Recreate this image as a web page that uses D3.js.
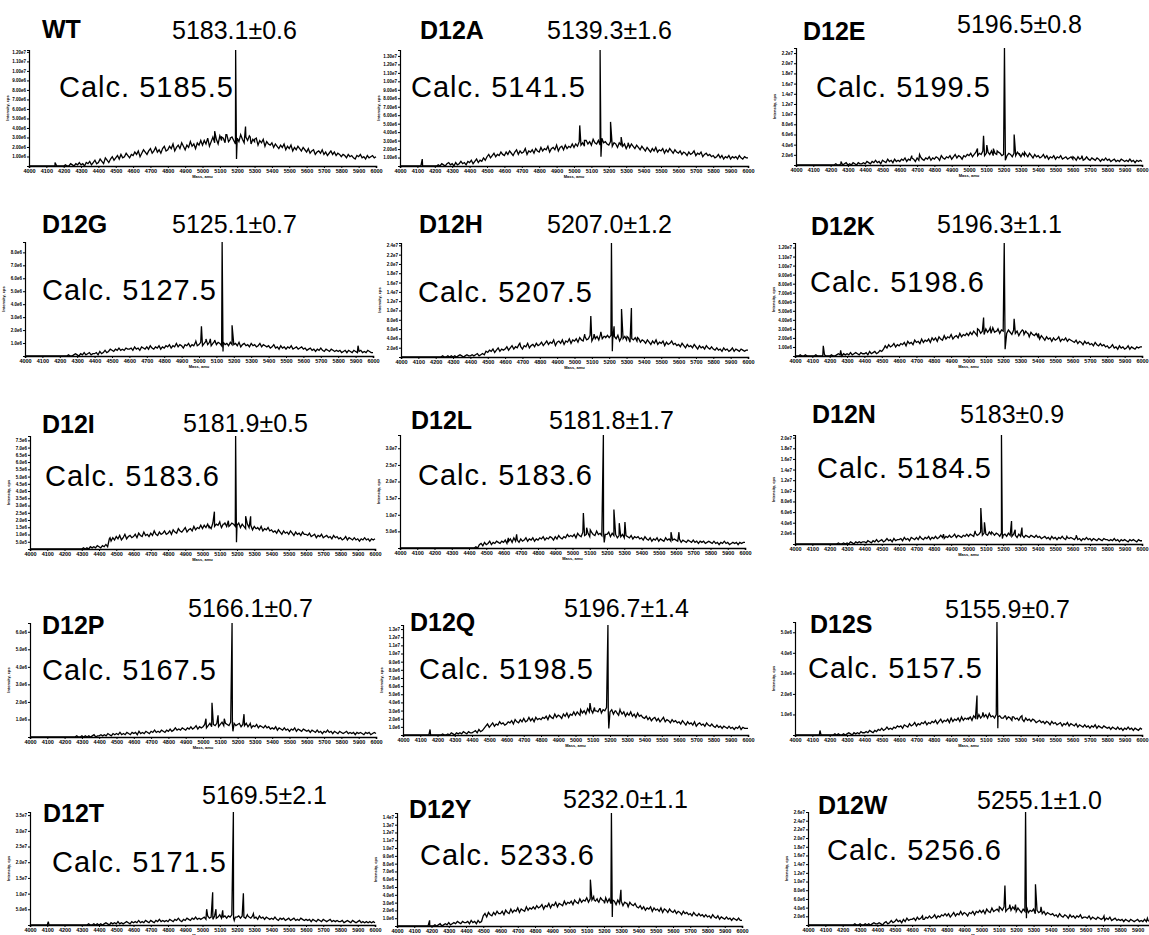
<!DOCTYPE html>
<html>
<head>
<meta charset="utf-8">
<script src="https://cdn.jsdelivr.net/npm/d3@7"></script>
<style>
  body { margin: 0; background: #fff; }
  svg { display: block; font-family: "Liberation Sans", Arial, sans-serif; }
</style>
</head>
<body>
<div id="chart"></div>
<script>
// mutant names and masses shown on each panel
const names = ["WT", "D12A", "D12E", "D12G", "D12H", "D12K", "D12I", "D12L", "D12N",
  "D12P", "D12Q", "D12S", "D12T", "D12Y", "D12W"];
const measured = ["5183.1±0.6", "5139.3±1.6", "5196.5±0.8", "5125.1±0.7", "5207.0±1.2",
  "5196.3±1.1", "5181.9±0.5", "5181.8±1.7", "5183±0.9", "5166.1±0.7", "5196.7±1.4",
  "5155.9±0.7", "5169.5±2.1", "5232.0±1.1", "5255.1±1.0"];
const calculated = ["Calc. 5185.5", "Calc. 5141.5", "Calc. 5199.5", "Calc. 5127.5",
  "Calc. 5207.5", "Calc. 5198.6", "Calc. 5183.6", "Calc. 5183.6", "Calc. 5184.5",
  "Calc. 5167.5", "Calc. 5198.5", "Calc. 5157.5", "Calc. 5171.5", "Calc. 5233.6",
  "Calc. 5256.6"];

// y axis top (cps) and tick step for every panel
const yMax = [1.22e7, 1.37e7, 2.3e7, 8.8e6, 2.45e7, 1.25e7, 7.8e6, 3.4e7, 2.05e7,
  6.5e6, 1.35e7, 5.5e6, 3.6e7, 1.45e7, 2.6e7];
const yStep = [1e6, 1e6, 2e6, 1e6, 2e6, 1e6, 5e5, 5e6, 2e6, 1e6, 1e6, 1e6, 5e6, 1e6, 2e6];
const yDigits = [2, 2, 1, 1, 1, 2, 1, 1, 1, 1, 1, 1, 1, 1, 1];

const xTickValues = [4000, 4100, 4200, 4300, 4400, 4500, 4600, 4700, 4800, 4900, 5000,
  5100, 5200, 5300, 5400, 5500, 5600, 5700, 5800, 5900, 6000];

// spectra: % of y axis top, evenly spaced from 4000 to 6000 amu (10 amu apart)
const massStart = 4000, massEnd = 6000;
const wtSpec = [
  0,0,0,0,0,0,0,0,0,0,0,0,0,0,0,0,0,0,0,0,
  0,1,0,0,2,1,0,2,1,3,1,2,0,3,2,4,1,3,5,2,
  3,6,4,2,7,5,3,6,8,5,7,9,6,10,7,8,11,9,7,10,
  9,12,10,13,8,11,14,12,10,13,15,11,13,16,12,14,11,15,17,13,
  14,17,15,19,13,16,18,15,20,17,14,18,16,21,17,19,15,20,18,22,
  18,22,19,24,17,21,25,20,23,19,26,22,24,20,27,21,23,25,22,19,
  24,21,27,23,20,25,22,26,19,23,21,24,18,22,20,23,17,21,19,18,
  20,16,19,17,15,18,16,19,14,17,15,18,13,16,14,17,15,13,16,14,
  12,15,11,13,14,10,12,13,11,14,10,12,9,11,13,10,12,9,11,10,
  8,10,9,7,10,8,9,7,6,9,8,10,7,8,6,9,7,8,9,7,
  8];
const d12aSpec = [
  0,0,0,0,0,0,0,0,0,0,0,0,0,0,0,0,0,0,0,0,
  0,0,1,0,2,1,0,2,3,1,2,0,3,1,2,4,2,3,1,4,
  3,5,2,4,6,3,5,4,7,5,8,10,7,9,11,8,10,9,12,10,
  9,12,10,13,11,9,12,14,10,13,11,12,15,10,13,12,14,11,15,13,
  12,16,13,15,14,17,12,15,16,14,18,13,16,17,14,18,15,17,16,19,
  16,19,17,21,18,20,17,22,19,21,18,23,20,19,22,18,24,20,21,19,
  18,21,17,20,19,16,20,18,17,19,15,18,16,19,17,15,18,16,14,17,
  15,13,16,14,12,15,13,16,12,14,13,15,11,14,12,15,13,11,14,12,
  11,13,10,12,11,9,12,10,11,13,9,11,10,12,8,10,11,9,10,8,
  9,7,8,10,7,9,6,8,7,9,6,8,7,8,6,9,7,6,8,7,
  7];
const d12eSpec = [
  0,0,0,0,0,0,0,0,0,0,0,0,0,0,0,0,0,0,0,0,
  0,0,0,1,0,0,1,0,1,2,0,1,0,2,1,0,2,1,1,2,
  1,3,2,1,3,2,4,2,3,1,4,3,2,5,3,4,2,5,3,4,
  3,5,4,6,3,5,4,6,5,3,6,4,7,5,4,6,5,7,4,6,
  5,7,6,4,8,6,5,7,6,8,5,7,9,6,8,7,5,8,7,9,
  8,10,7,9,11,8,10,9,12,8,10,11,9,12,8,10,9,11,10,8,
  9,11,8,10,9,7,10,8,11,9,7,10,8,9,7,10,8,6,9,7,
  8,6,7,9,6,8,5,7,6,8,5,7,6,8,5,6,7,5,6,7,
  5,6,4,7,5,6,4,5,7,5,4,6,5,4,6,5,3,5,4,6,
  4,5,3,4,5,3,4,3,5,4,3,4,3,5,3,4,2,4,3,4,
  3];
const d12gSpec = [
  0,0,0,0,0,0,0,0,0,0,0,0,0,0,0,0,0,0,0,0,
  0,0,0,0,0,1,0,0,1,2,1,0,2,1,3,1,2,3,1,2,
  2,3,1,4,2,3,5,3,4,6,5,4,6,5,7,5,6,5,7,6,
  6,7,5,8,6,7,5,8,7,6,8,6,9,7,6,8,7,9,6,8,
  7,9,8,10,7,9,8,11,8,10,9,7,10,9,11,8,10,9,12,9,
  10,12,9,11,13,10,12,9,11,13,10,12,11,9,12,10,11,9,12,10,
  10,11,9,12,8,10,11,9,10,8,11,9,10,8,9,11,8,10,9,8,
  9,7,8,10,7,8,6,9,7,8,6,8,7,9,6,7,8,6,7,8,
  6,7,5,6,7,5,6,4,6,5,7,5,4,6,5,4,6,5,4,5,
  4,5,3,4,5,3,5,4,3,5,4,3,4,5,3,4,3,5,4,3,
  3];
const d12hSpec = [
  0,0,0,0,0,0,0,0,0,0,0,0,0,0,0,0,0,0,0,0,
  0,0,0,0,1,0,0,1,0,1,0,1,0,1,2,1,0,1,2,1,
  1,2,1,2,3,1,2,3,2,5,4,6,5,7,4,6,8,5,7,6,
  7,9,6,8,10,7,9,8,11,9,7,10,9,12,8,10,11,9,12,10,
  11,13,10,12,14,11,13,12,15,10,13,14,12,15,11,14,13,16,12,15,
  14,16,13,17,15,14,18,15,16,19,14,17,16,18,15,20,16,18,17,19,
  17,19,15,18,16,19,14,17,16,18,15,17,13,16,15,17,14,16,13,15,
  14,12,15,13,11,14,12,15,11,13,12,14,10,13,11,12,14,11,12,10,
  11,9,12,10,8,11,9,10,8,11,9,7,10,8,9,7,10,8,7,9,
  7,6,8,6,7,5,8,6,7,5,6,8,5,7,6,5,7,6,5,6,
  6];
const d12kSpec = [
  0,0,0,1,0,0,1,0,0,0,0,0,1,0,0,0,0,1,0,0,
  0,1,0,0,1,2,1,0,2,1,2,1,3,1,2,3,2,1,3,2,
  2,3,1,4,2,3,4,2,3,5,4,6,9,7,10,8,9,11,8,10,
  9,11,10,12,9,13,11,12,10,14,12,13,11,15,12,14,13,15,12,16,
  14,16,13,17,15,14,18,15,17,16,19,15,17,18,16,20,17,19,18,20,
  18,21,19,22,20,18,23,20,22,19,24,21,23,20,25,21,22,24,20,23,
  22,24,20,23,21,19,23,20,22,18,21,23,19,22,20,17,21,19,18,20,
  17,15,18,16,14,17,15,16,13,16,14,15,17,13,15,14,16,13,15,14,
  13,12,14,11,13,12,10,13,11,12,10,11,9,12,10,9,11,9,10,8,
  9,7,8,10,7,8,6,9,7,8,6,7,9,6,8,7,6,8,7,8,
  8];
const d12iSpec = [
  0,0,0,0,0,0,0,0,0,0,0,0,0,0,0,0,0,0,0,0,
  0,0,0,0,0,0,0,0,0,0,0,1,0,1,0,2,1,2,1,3,
  2,1,3,2,4,2,9,7,10,8,11,9,12,8,10,13,9,11,12,10,
  11,13,10,14,12,11,15,12,13,11,14,12,16,13,12,15,13,14,16,13,
  14,16,13,17,15,14,18,16,15,17,19,15,17,18,16,20,17,19,18,21,
  18,21,19,22,20,18,23,20,22,21,24,19,22,23,20,25,21,23,22,20,
  21,23,19,22,20,18,22,19,21,17,20,18,19,17,20,16,18,17,19,16,
  17,15,16,14,17,15,13,16,14,15,13,16,14,12,15,13,14,12,15,13,
  13,12,14,11,12,13,10,12,11,13,10,11,12,10,11,9,12,10,11,9,
  10,8,9,11,8,10,9,8,10,8,9,7,9,8,10,8,9,7,9,8,
  9];
const d12lSpec = [
  0,0,0,0,0,0,0,0,0,0,0,0,0,0,0,0,0,0,0,0,
  0,0,0,0,0,0,0,0,0,0,0,0,0,0,0,0,0,0,0,0,
  0,0,0,0,1,0,3,4,2,5,3,4,6,3,5,4,6,5,4,6,
  5,7,4,6,8,5,9,6,7,5,8,6,7,9,6,8,7,9,6,8,
  7,9,8,10,7,9,8,10,9,7,10,8,11,9,8,10,9,12,10,11,
  10,12,9,13,11,10,14,11,12,13,10,14,12,11,15,12,13,11,14,12,
  12,14,10,13,11,12,9,11,10,12,9,11,10,9,11,8,10,9,10,8,
  9,7,10,8,7,9,6,8,7,9,6,8,7,6,9,7,8,6,7,8,
  7,6,8,5,7,6,5,7,6,5,7,5,6,4,6,5,6,4,5,6,
  5,4,6,4,5,3,5,4,6,4,5,3,4,5,4,5,3,5,4,5,
  5];
const d12nSpec = [
  0,0,0,0,0,0,0,0,0,0,0,0,0,0,0,0,0,0,0,0,
  0,0,0,0,0,1,0,0,1,0,1,0,2,1,0,2,1,2,1,2,
  2,1,3,2,1,3,2,4,2,3,4,2,3,5,3,4,2,5,3,4,
  4,5,3,6,4,5,3,6,5,4,6,4,7,5,4,6,5,7,4,6,
  5,7,5,6,8,6,5,7,6,8,6,7,9,6,8,7,6,8,7,9,
  7,9,8,7,10,8,9,11,8,10,9,8,11,9,10,8,10,9,7,10,
  8,9,7,10,8,7,9,8,6,9,7,8,6,8,7,6,8,7,6,8,
  6,7,5,6,7,5,6,4,7,5,6,4,6,5,7,5,4,6,5,6,
  5,4,6,4,5,3,5,4,6,4,5,3,5,4,3,5,4,3,5,4,
  4,3,4,3,5,3,4,2,4,3,4,3,2,4,3,4,3,2,4,3,
  3];
const d12pSpec = [
  0,0,0,0,0,0,0,0,0,0,0,0,0,0,0,0,0,0,0,0,
  0,0,0,0,0,0,0,1,0,0,1,0,1,0,1,0,1,2,0,1,
  1,2,1,2,1,3,2,1,3,2,3,2,4,2,3,2,4,3,2,4,
  3,4,2,5,3,4,3,5,4,3,5,4,6,4,5,4,6,5,4,6,
  5,7,5,6,8,6,7,6,8,7,6,8,7,9,7,8,10,7,9,8,
  9,11,8,10,12,9,11,10,12,9,11,13,10,12,11,10,13,11,12,10,
  11,12,9,11,10,12,9,11,8,10,9,11,8,10,9,8,10,8,9,7,
  8,7,9,6,8,7,6,8,6,7,5,7,6,8,5,7,6,5,7,6,
  5,6,4,6,5,4,6,4,5,3,5,4,6,4,5,3,5,4,3,5,
  4,3,4,5,3,4,3,4,2,4,3,4,3,2,4,3,4,2,3,4,
  3];
const d12qSpec = [
  0,0,0,0,0,0,0,0,0,0,0,0,0,0,0,0,0,0,0,0,
  0,0,0,1,0,0,1,0,2,1,0,2,1,2,1,3,2,1,3,2,
  2,3,4,2,5,3,4,6,8,10,7,9,11,8,10,9,12,10,11,9,
  10,12,11,13,10,14,12,11,14,12,15,12,13,16,13,15,12,16,14,15,
  14,16,15,17,14,18,16,15,19,16,18,17,15,19,17,20,16,19,18,21,
  18,21,19,23,20,22,19,24,21,23,20,25,22,21,24,20,23,22,25,21,
  21,23,19,22,20,18,22,19,21,17,20,18,21,17,19,16,20,17,18,16,
  15,17,14,16,13,15,16,13,15,12,14,16,12,14,13,11,14,12,13,11,
  12,10,13,11,9,12,10,11,9,12,8,10,11,9,10,8,11,9,8,10,
  8,7,9,7,8,6,8,7,6,8,6,7,5,7,6,8,5,7,6,6,
  6];
const d12sSpec = [
  0,0,0,0,0,0,0,0,0,0,0,0,0,0,0,0,0,0,0,0,
  0,0,0,1,0,1,0,0,1,0,1,2,1,0,2,1,2,1,3,2,
  2,3,2,4,3,2,4,3,5,4,6,4,5,7,5,6,5,7,6,8,
  7,8,6,9,8,7,10,8,9,11,8,10,9,11,10,12,9,11,10,12,
  11,13,10,12,14,11,13,12,14,11,15,12,14,13,15,12,16,13,15,14,
  14,16,13,17,15,14,18,15,17,16,18,15,19,16,17,15,18,16,17,15,
  15,17,14,16,15,13,16,14,15,13,16,14,12,15,13,14,12,14,13,11,
  12,13,11,12,10,12,11,9,12,10,11,9,10,11,8,10,9,11,8,10,
  9,8,10,7,9,8,7,9,7,8,6,8,7,9,6,8,7,6,8,7,
  6,7,5,7,6,5,7,5,6,4,6,5,7,5,6,4,6,5,4,6,
  5];
const d12tSpec = [
  0,0,0,0,0,0,0,0,0,0,0,0,0,0,0,0,0,0,0,0,
  0,0,0,0,0,0,0,0,0,0,0,0,0,0,1,0,0,1,0,1,
  0,1,0,1,2,1,0,2,1,2,1,3,1,2,1,2,3,2,1,3,
  2,3,2,4,2,3,2,4,3,2,4,3,2,4,3,5,3,4,3,4,
  3,5,4,3,5,4,6,4,3,5,4,6,5,4,6,5,7,5,6,5,
  6,7,5,8,6,7,5,8,6,7,9,6,7,8,6,8,7,9,6,7,
  7,8,6,8,7,6,9,7,6,8,6,7,5,8,6,7,5,7,6,5,
  6,5,7,5,4,6,5,6,4,5,6,4,5,6,4,5,4,6,5,4,
  5,4,5,3,5,4,3,5,4,3,5,4,3,4,5,3,4,3,4,3,
  3,4,2,3,4,3,2,4,3,2,3,4,2,3,2,3,2,3,2,3,
  2];
const d12ySpec = [
  0,0,0,0,0,0,0,0,0,0,0,0,0,0,0,0,0,0,0,0,
  0,0,1,0,1,2,0,1,2,1,3,1,2,3,2,4,3,2,4,3,
  3,4,2,5,3,4,2,5,3,4,9,11,8,12,10,9,12,10,13,11,
  11,13,10,14,12,11,15,12,14,13,16,12,15,14,13,17,14,16,15,17,
  15,18,16,17,19,15,18,17,20,16,19,18,21,17,20,19,18,22,19,21,
  20,22,19,23,21,20,24,21,23,22,25,21,24,23,26,22,24,21,25,23,
  22,25,21,24,20,23,22,19,23,20,22,18,21,20,17,21,19,18,20,17,
  16,18,15,17,14,16,15,17,13,16,14,15,13,16,12,15,14,12,15,13,
  12,14,11,13,12,10,13,11,12,10,11,9,12,10,9,11,9,10,8,10,
  8,9,7,10,8,7,9,6,8,7,6,8,6,7,5,7,6,5,7,5,
  5];
const d12wSpec = [
  0,0,0,0,0,0,0,0,0,0,0,0,0,0,0,0,0,0,0,0,
  0,0,0,0,0,0,0,1,0,0,1,0,0,1,0,1,0,1,2,1,
  1,2,1,0,2,3,1,2,4,2,3,5,3,4,2,5,3,6,4,5,
  5,6,4,7,5,6,8,5,7,6,8,6,7,9,6,8,7,9,8,10,
  8,10,7,9,11,8,10,9,12,9,11,10,8,11,10,12,9,12,11,13,
  11,13,10,14,12,11,15,12,13,14,12,15,13,16,12,14,15,13,16,14,
  12,15,13,11,14,12,16,11,13,12,14,10,13,11,12,10,12,9,11,10,
  9,10,8,9,7,10,8,7,9,8,6,9,7,8,6,8,7,9,6,7,
  7,6,8,5,7,6,5,7,6,5,6,4,6,5,7,4,5,6,4,5,
  4,5,3,5,4,3,5,4,3,4,5,3,4,3,5,3,4,3,4,3,
  3];

// sharp peaks [mass, % of axis top]
const wtPeaks = [[4150,3],[5070,30],[5110,25],[5135,27],[5160,24],[5191,100],[5196,6],[5248,34],[5275,25],[5300,23]];
const d12aPeaks = [[4128,6],[5003,17],[5033,35],[5060,22],[5150,100],[5155,8],[5210,38],[5271,25],[5311,20]];
const d12ePeaks = [[4260,3],[4669,8],[4714,9],[5049,14],[5084,25],[5103,17],[5141,14],[5163,12],[5205,100],[5210,4],[5261,26],[5290,10],[5321,11],[5601,7],[5653,8]];
const d12gPeaks = [[4982,13],[5014,26],[5040,15],[5065,15],[5090,14],[5133,100],[5138,4],[5190,27],[5914,9]];
const d12hPeaks = [[4685,12],[5059,20],[5094,36],[5113,20],[5152,22],[5175,18],[5213,100],[5218,5],[5228,27],[5271,42],[5303,18],[5328,43],[5363,17]];
const d12kPeaks = [[4163,9],[4263,5],[5052,24],[5087,34],[5125,25],[5163,22],[5206,100],[5211,6],[5263,33],[5317,22],[5343,20],[5403,20]];
const d12iPeaks = [[4464,10],[5038,19],[5069,33],[5103,22],[5125,22],[5153,20],[5192,100],[5197,6],[5250,29],[5279,29],[5313,18]];
const d12lPeaks = [[4628,9],[4676,12],[5063,31],[5082,18],[5103,16],[5179,100],[5184,5],[5240,34],[5271,22],[5304,23],[5571,14],[5617,14]];
const d12nPeaks = [[4856,9],[5038,12],[5071,33],[5092,20],[5133,11],[5190,100],[5195,5],[5248,21],[5269,13],[5308,15],[5567,7],[5621,8]];
const d12pPeaks = [[5017,16],[5052,30],[5087,19],[5123,16],[5168,100],[5173,5],[5237,20],[5273,12]];
const d12qPeaks = [[4157,5],[5026,18],[5084,29],[5113,22],[5143,24],[5188,100],[5193,6],[5233,22],[5258,23],[5303,19]];
const d12sPeaks = [[4144,4],[4997,15],[5049,35],[5083,20],[5123,18],[5164,100],[5169,6],[5213,17],[5253,16],[5308,17]];
const d12tPeaks = [[4106,3],[5024,14],[5059,29],[5078,14],[5117,13],[5179,100],[5184,4],[5237,28],[5263,8],[5295,10]];
const d12yPeaks = [[4189,5],[5121,41],[5143,23],[5165,22],[5203,20],[5243,100],[5248,8],[5298,32],[5333,20]];
const d12wPeaks = [[4663,5],[5103,16],[5135,35],[5163,18],[5196,18],[5254,100],[5259,6],[5311,36],[5343,16],[5706,8],[5956,6]];

const spectra = [wtSpec, d12aSpec, d12eSpec, d12gSpec, d12hSpec, d12kSpec, d12iSpec, d12lSpec,
  d12nSpec, d12pSpec, d12qSpec, d12sSpec, d12tSpec, d12ySpec, d12wSpec];
const peaks = [wtPeaks, d12aPeaks, d12ePeaks, d12gPeaks, d12hPeaks, d12kPeaks, d12iPeaks, d12lPeaks,
  d12nPeaks, d12pPeaks, d12qPeaks, d12sPeaks, d12tPeaks, d12yPeaks, d12wPeaks];

// layout: axis left, right, top, baseline, then name / measured / calc text anchors
const layout = [
  [29, 376, 50, 166, 42, 38, 172, 39, 59, 97],
  [400, 748, 50, 166, 420, 39, 547, 39, 411, 97],
  [796, 1142, 48, 165, 803, 40, 957, 33, 816, 97],
  [25, 373, 242, 356, 42, 233, 172, 233, 42, 300],
  [401, 748, 243, 357, 419, 233, 547, 233, 418, 302],
  [795, 1142, 243, 356, 811, 235, 937, 233, 810, 292],
  [30, 375, 436, 549, 42, 433, 183, 432, 45, 486],
  [400, 745, 435, 548, 411, 429, 549, 429, 418, 485],
  [795, 1142, 435, 544, 812, 423, 960, 423, 817, 478],
  [30, 376, 623, 737, 42, 634, 188, 617, 42, 680],
  [403, 748, 625, 735, 410, 631, 564, 617, 419, 679],
  [795, 1142, 622, 735, 810, 633, 945, 618, 808, 678],
  [30, 375, 812, 925, 43, 822, 202, 804, 52, 872],
  [397, 742, 813, 926, 409, 818, 563, 808, 420, 865],
  [808, 1155, 812, 925, 818, 814, 977, 809, 827, 860]
];

const svg = d3.select("#chart").append("svg")
  .attr("width", 1149)
  .attr("height", 935);

names.forEach((name, i) => {
  const [left, right, top, base, nx, ny, mx, my, cx, cy] = layout[i];
  const g = svg.append("g");

  const x = d3.scaleLinear().domain([massStart, massEnd]).range([left, right]);
  const y = d3.scaleLinear().domain([0, yMax[i]]).range([base, top]);

  // spectrum points = regular trace + sharp peaks, sorted by mass
  const trace = spectra[i];
  const mass = d3.scaleLinear().domain([0, trace.length - 1]).range([massStart, massEnd]);
  let pts = trace.map((v, k) => [mass(k), v]);
  pts = pts.concat(peaks[i]).sort((a, b) => a[0] - b[0]);

  const line = d3.line()
    .x(d => x(d[0]))
    .y(d => y(d[1] / 100 * yMax[i]));

  g.append("path")
    .attr("d", line(pts))
    .attr("fill", "none")
    .attr("stroke", "#000")
    .attr("stroke-width", 1.3)
    .attr("stroke-linejoin", "miter");

  // x axis
  const xAxis = g.append("g")
    .attr("transform", `translate(0, ${base})`)
    .call(d3.axisBottom(x).tickValues(xTickValues).tickSize(2).tickPadding(1).tickFormat(d3.format("d")));
  xAxis.select(".domain").attr("stroke-width", 1.6);
  xAxis.selectAll("text")
    .attr("font-size", 5.5)
    .attr("font-weight", "bold")
    .attr("fill", "#000");

  g.append("text")
    .attr("x", (left + right) / 2)
    .attr("y", base + 12)
    .attr("text-anchor", "middle")
    .attr("font-size", 4)
    .attr("font-weight", "bold")
    .text("Mass, amu");

  // y axis
  const fmt = v => v.toExponential(yDigits[i]).replace("+", "");
  const yTicks = d3.range(yStep[i], yMax[i] + 1, yStep[i]);
  const yAxis = g.append("g")
    .attr("transform", `translate(${left}, 0)`)
    .call(d3.axisLeft(y).tickValues(yTicks).tickSize(2).tickPadding(1).tickFormat(fmt));
  yAxis.select(".domain").attr("stroke-width", 1.2);
  yAxis.selectAll("text")
    .attr("font-size", 4.5)
    .attr("font-weight", "bold")
    .attr("fill", "#000");

  g.append("text")
    .attr("transform", `translate(${left - 20}, ${(top + base) / 2}) rotate(-90)`)
    .attr("text-anchor", "middle")
    .attr("font-size", 4)
    .attr("font-weight", "bold")
    .text("Intensity, cps");

  // labels
  g.append("text")
    .attr("x", nx).attr("y", ny)
    .attr("font-size", 25)
    .attr("font-weight", "bold")
    .text(name);
  g.append("text")
    .attr("x", mx).attr("y", my)
    .attr("font-size", 25)
    .text(measured[i]);
  g.append("text")
    .attr("x", cx).attr("y", cy)
    .attr("font-size", 29)
    .attr("letter-spacing", 1)
    .text(calculated[i]);
});
</script>
</body>
</html>
